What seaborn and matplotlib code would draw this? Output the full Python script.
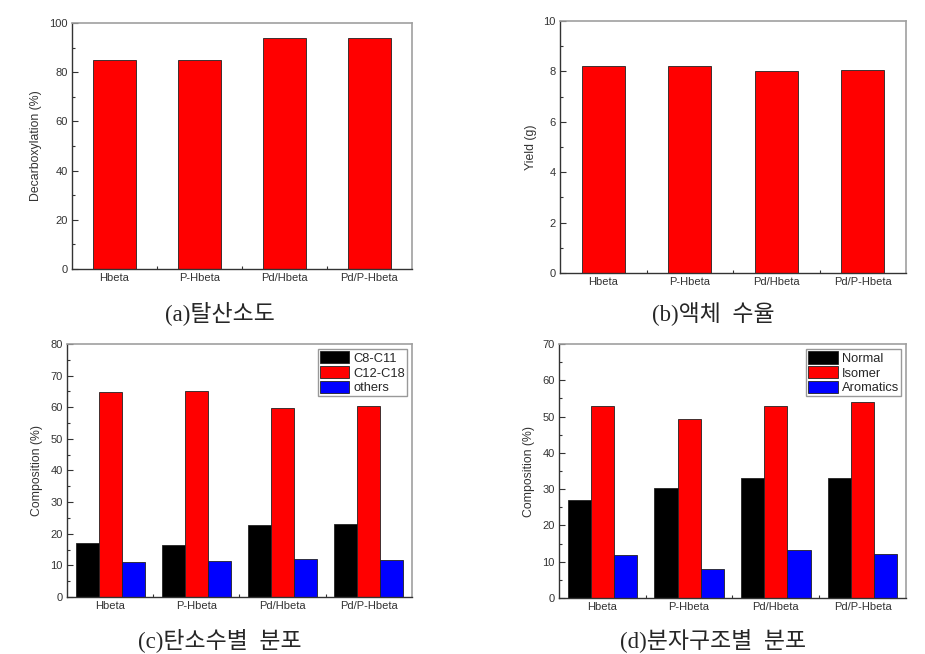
import pandas as pd
import seaborn as sns
import matplotlib.pyplot as plt
from matplotlib.ticker import AutoMinorLocator, FixedLocator

catalysts = ['Hbeta', 'P-Hbeta', 'Pd/Hbeta', 'Pd/P-Hbeta']

# (a) decarboxylation (%)
decarbox = [85.0, 85.0, 93.9, 94.0]
# (b) liquid yield (g)
yield_g = [8.21, 8.23, 8.01, 8.07]
# (c) carbon-number distribution (%)
carbon_groups = ['C8-C11', 'C12-C18', 'others']
c8_c11 = [17.1, 16.4, 22.9, 23.1]
c12_c18 = [64.9, 65.0, 59.9, 60.4]
c_others = [10.9, 11.4, 11.9, 11.8]
# (d) molecular-structure distribution (%)
struct_groups = ['Normal', 'Isomer', 'Aromatics']
normal = [26.9, 30.3, 33.1, 33.2]
isomer = [52.9, 49.3, 52.8, 54.0]
aromatics = [11.9, 8.0, 13.3, 12.1]

captions = ['(a)탈산소도', '(b)액체  수율', '(c)탄소수별  분포', '(d)분자구조별  분포']

sns.set_style('ticks')
plt.rcParams['font.family'] = ['Liberation Sans', 'DejaVu Sans']
plt.rcParams['xtick.direction'] = 'in'
plt.rcParams['ytick.direction'] = 'in'

fig = plt.figure(figsize=(9.25, 6.54), dpi=100)
ax_a = fig.add_axes([0.0778, 0.5887, 0.3676, 0.3761])
ax_b = fig.add_axes([0.6054, 0.5826, 0.3741, 0.3853])
ax_c = fig.add_axes([0.0724, 0.0872, 0.3730, 0.3869])
ax_d = fig.add_axes([0.6043, 0.0856, 0.3751, 0.3884])


def long_df(groups, series):
    rows = []
    for g, vals in zip(groups, series):
        for cat, v in zip(catalysts, vals):
            rows.append({'catalyst': cat, 'group': g, 'value': v})
    return pd.DataFrame(rows)


df_a = pd.DataFrame({'catalyst': catalysts, 'value': decarbox})
df_b = pd.DataFrame({'catalyst': catalysts, 'value': yield_g})
df_c = long_df(carbon_groups, [c8_c11, c12_c18, c_others])
df_d = long_df(struct_groups, [normal, isomer, aromatics])

bar_kw = dict(edgecolor='#222222', linewidth=0.6, saturation=1)
sns.barplot(data=df_a, x='catalyst', y='value', color='#ff0000', width=0.5, ax=ax_a, **bar_kw)
sns.barplot(data=df_b, x='catalyst', y='value', color='#ff0000', width=0.5, ax=ax_b, **bar_kw)
pal = ['#000000', '#ff0000', '#0000ff']
sns.barplot(data=df_c, x='catalyst', y='value', hue='group', palette=pal, width=0.8, ax=ax_c, **bar_kw)
sns.barplot(data=df_d, x='catalyst', y='value', hue='group', palette=pal, width=0.8, ax=ax_d, **bar_kw)

setup = [
    (ax_a, 'Decarboxylation (%)', 100, 20),
    (ax_b, 'Yield (g)', 10, 2),
    (ax_c, 'Composition (%)', 80, 10),
    (ax_d, 'Composition (%)', 70, 10),
]
for ax, ylab, ymax, step in setup:
    ax.set_xlim(-0.5, 3.5)
    ax.set_ylim(0, ymax)
    ax.set_yticks(range(0, ymax + 1, step))
    ax.yaxis.set_minor_locator(AutoMinorLocator(2))
    ax.xaxis.set_minor_locator(FixedLocator([0.5, 1.5, 2.5]))
    ax.set_xlabel('')
    ax.set_ylabel(ylab, fontsize=8.8, color='#333333', labelpad=5)
    ax.tick_params(axis='both', which='major', length=4, width=0.8, labelsize=8,
                   colors='#333333', pad=3)
    ax.tick_params(axis='both', which='minor', length=2, width=0.8, colors='#333333')
    for side in ['top', 'right']:
        ax.spines[side].set_visible(True)
        ax.spines[side].set_color('#a0a0a0')
        ax.spines[side].set_linewidth(1.2)
    for side in ['left', 'bottom']:
        ax.spines[side].set_color('#333333')
        ax.spines[side].set_linewidth(1.0)

for ax in [ax_c, ax_d]:
    ax.legend(loc='upper right', fontsize=9.3, frameon=True, fancybox=False,
              edgecolor='#999999', framealpha=1, handlelength=2.3, handleheight=1.1,
              handletextpad=0.3, labelspacing=0.1, borderpad=0.15, borderaxespad=0.4,
              title=None)

cap_font = ['Liberation Serif', 'Noto Sans CJK KR']
fig.text(0.238, 0.521, captions[0], ha='center', va='center', fontsize=16.5, family=cap_font)
fig.text(0.771, 0.521, captions[1], ha='center', va='center', fontsize=16.5, family=cap_font)
fig.text(0.238, 0.0214, captions[2], ha='center', va='center', fontsize=16.5, family=cap_font)
fig.text(0.771, 0.0214, captions[3], ha='center', va='center', fontsize=16.5, family=cap_font)

fig.savefig('out.png', dpi=100)
